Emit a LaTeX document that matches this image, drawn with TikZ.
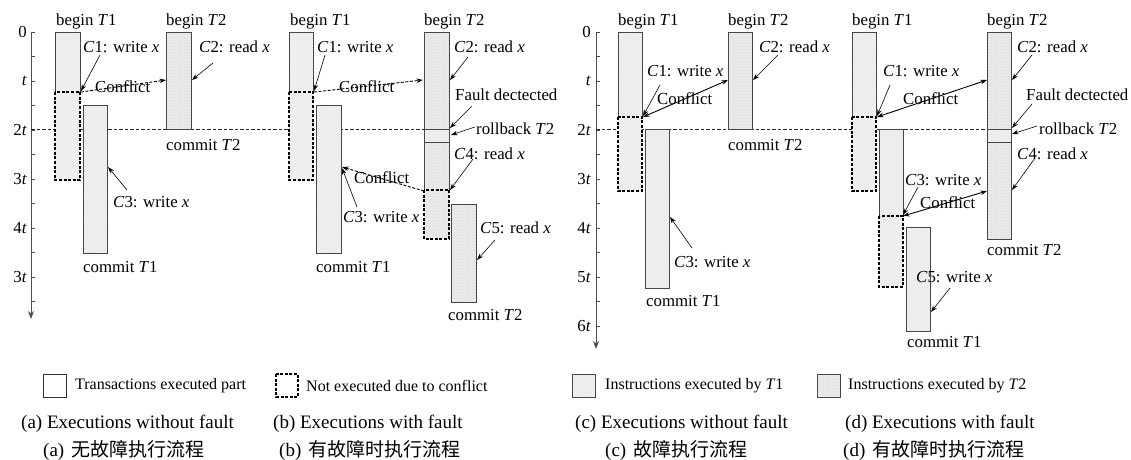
\documentclass[tikz,border=0pt]{standalone}
\usepackage{fontspec}
\setmainfont{Liberation Serif}
\newfontfamily\cjk{Noto Sans CJK SC}
\usetikzlibrary{arrows.meta,patterns}
\begin{document}
\begin{tikzpicture}[x=1pt,y=-1pt,
  lbl/.style={font=\fontsize{16.8}{18}\selectfont, inner sep=0pt, anchor=west},
  axl/.style={font=\fontsize{16.8}{18}\selectfont, inner sep=0pt, anchor=east},
  leg/.style={font=\fontsize{16}{17}\selectfont, inner sep=0pt, anchor=west},
  captxt/.style={font=\fontsize{19}{21}\selectfont, inner sep=0pt, anchor=west},
  t1f/.style={preaction={fill=black!4}, pattern=north east lines, pattern color=black!12},
  t2f/.style={preaction={fill=black!8}, pattern=crosshatch dots, pattern color=black!16},
  sol/.style={draw=black!72, line width=0.8pt},
  dsh/.style={draw=black, line width=1.1pt, dash pattern=on 3pt off 1.6pt},
  twot/.style={draw=black!85, line width=0.7pt, dash pattern=on 3.5pt off 2pt},
  axisst/.style={draw=black!70, line width=0.9pt, -{Stealth[length=8pt,width=6pt]}},
  tck/.style={draw=black!70, line width=0.8pt},
  arr/.style={draw=black, line width=0.6pt, -{Stealth[length=6.5pt,width=4.5pt]}},
  darr/.style={draw=black, line width=0.9pt, dash pattern=on 3pt off 1.6pt, -{Stealth[length=6.5pt,width=4.5pt]}},
  barr/.style={draw=black, line width=0.9pt, {Stealth[length=6.5pt,width=4.5pt]}-{Stealth[length=6.5pt,width=4.5pt]}}
]
\useasboundingbox (0,0) rectangle (1131,459);

% ---------------- axes ----------------
\coordinate (axAt) at (31,32); \coordinate (axAb) at (31,319);
\draw[axisst] (axAt) -- (axAb);
\foreach \k in {0,...,11} \draw[tck] (31,{32+24.5*\k}) -- ++(4,0);
\node[axl] (aL0) at (27,32) {0};
\node[axl] (aL1) at (27,81) {\textit{t}};
\node[axl] (aL2) at (27,130) {2\textit{t}};
\node[axl] (aL3) at (27,179) {3\textit{t}};
\node[axl] (aL4) at (27,228) {4\textit{t}};
\node[axl] (aL5) at (27,277) {3\textit{t}};

\coordinate (axCt) at (596,32); \coordinate (axCb) at (596,349);
\draw[axisst] (axCt) -- (axCb);
\foreach \k in {0,...,12} \draw[tck] (596,{32+24.5*\k}) -- ++(4,0);
\node[axl] (cL0) at (591,32) {0};
\node[axl] (cL1) at (591,81) {\textit{t}};
\node[axl] (cL2) at (591,130) {2\textit{t}};
\node[axl] (cL3) at (591,179) {3\textit{t}};
\node[axl] (cL4) at (591,228) {4\textit{t}};
\node[axl] (cL5) at (591,277) {5\textit{t}};
\node[axl] (cL6) at (591,326) {6\textit{t}};

% ---------------- 2t lines ----------------
\coordinate (ab2s) at (31,129); \coordinate (ab2e) at (424,129);
\draw[twot] (ab2s) -- (ab2e);
\coordinate (cd2s) at (596,129); \coordinate (cd2e) at (987,129);
\draw[twot] (cd2s) -- (cd2e);

% ================= panel (a) =================
\path[t1f] (55,32) rectangle (80,180);
\draw[sol] (55,92) -- (55,32) -- (80,32) -- (80,92);
\draw[dsh] (55,92) rectangle (80,180);
\path[t1f] (83,105) rectangle (107,253);
\draw[sol] (83,105) rectangle (107,253);
\path[t2f] (166,32) rectangle (191,129);
\draw[sol] (166,32) rectangle (191,129);

\node[lbl] (aB1) at (56,21) {begin \textit{T}1};
\node[lbl] (aB2) at (166,21) {begin \textit{T}2};
\node[lbl] (aC1) at (83,47) {\textit{C}1: write \textit{x}};
\node[lbl] (aC2) at (199,47) {\textit{C}2: read \textit{x}};
\node[lbl] (aCf) at (95,87) {Conflict};
\node[lbl] (aM2) at (166,145) {commit \textit{T}2};
\node[lbl] (aC3) at (113,202) {\textit{C}3: write \textit{x}};
\node[lbl] (aM1) at (83,267) {commit \textit{T}1};

\coordinate (aC1s) at (100,55);  \coordinate (aT1k) at (81,91);
\draw[arr] (aC1s) -- (aT1k);
\coordinate (aC2s) at (213,63);  \coordinate (aT2k) at (192,80);
\draw[arr] (aC2s) -- (aT2k);
\coordinate (aCfs) at (81,92);   \coordinate (aCfe) at (166,80);
\draw[darr] (aCfs) -- (aCfe);
\coordinate (aC3s) at (127,190); \coordinate (aC3k) at (108,167);
\draw[arr] (aC3s) -- (aC3k);

% ================= panel (b) =================
\path[t1f] (289,32) rectangle (313,180);
\draw[sol] (289,92) -- (289,32) -- (313,32) -- (313,92);
\draw[dsh] (289,92) rectangle (313,180);
\path[t1f] (316,105) rectangle (341,253);
\draw[sol] (316,105) rectangle (341,253);
\path[t2f] (424,32) rectangle (449,129);
\path[t1f] (424,129) rectangle (449,142);
\path[t2f] (424,142) rectangle (449,239);
\draw[sol] (424,190) -- (424,32) -- (449,32) -- (449,190);
\draw[sol] (424,129) -- (449,129) (424,142) -- (449,142);
\draw[dsh] (424,190) rectangle (449,239);
\path[t2f] (451,204) rectangle (476,302);
\draw[sol] (451,204) rectangle (476,302);

\node[lbl] (bB1) at (290,21) {begin \textit{T}1};
\node[lbl] (bC1) at (317,47) {\textit{C}1: write \textit{x}};
\node[lbl] (bB2) at (424,21) {begin \textit{T}2};
\node[lbl] (bC2) at (454,47) {\textit{C}2: read \textit{x}};
\node[lbl] (bCf1) at (339,87) {Conflict};
\node[lbl] (bFd) at (455,95) {Fault dectected};
\node[lbl] (bRb) at (476,129) {rollback \textit{T}2};
\node[lbl] (bC4) at (454,154) {\textit{C}4: read \textit{x}};
\node[lbl] (bCf2) at (354,178) {Conflict};
\node[lbl] (bC3) at (343,217) {\textit{C}3: write \textit{x}};
\node[lbl] (bC5) at (480,228) {\textit{C}5: read \textit{x}};
\node[lbl] (bM1) at (316,267) {commit \textit{T}1};
\node[lbl] (bM2) at (448,315) {commit \textit{T}2};

\coordinate (bC1s) at (325,55);  \coordinate (bT1k) at (314,91);
\draw[arr] (bC1s) -- (bT1k);
\coordinate (bC2s) at (468,57);  \coordinate (bT2k) at (450,80);
\draw[arr] (bC2s) -- (bT2k);
\coordinate (bCf1s) at (314,92); \coordinate (bCf1e) at (423,80);
\draw[darr] (bCf1s) -- (bCf1e);
\coordinate (bFds) at (472,106); \coordinate (bFdk) at (450,128);
\draw[arr] (bFds) -- (bFdk);
\coordinate (bRbs) at (475,127); \coordinate (bRbk) at (451,135);
\draw[arr] (bRbs) -- (bRbk);
\coordinate (bC4s) at (473,159); \coordinate (bC4k) at (450,190);
\draw[arr] (bC4s) -- (bC4k);
\coordinate (bCf2s) at (424,191); \coordinate (bCf2e) at (342,167);
\draw[darr] (bCf2s) -- (bCf2e);
\coordinate (bC3s) at (357,207); \coordinate (bC3k) at (342,168);
\draw[arr] (bC3s) -- (bC3k);
\coordinate (bC5s) at (495,240); \coordinate (bC5k) at (477,260);
\draw[arr] (bC5s) -- (bC5k);

% ================= panel (c) =================
\path[t1f] (618,32) rectangle (642,191);
\draw[sol] (618,117) -- (618,32) -- (642,32) -- (642,117);
\draw[dsh] (618,117) rectangle (642,191);
\path[t1f] (645,129) rectangle (669,288);
\draw[sol] (645,129) rectangle (669,288);
\path[t2f] (728,32) rectangle (752,129);
\draw[sol] (728,32) rectangle (752,129);

\node[lbl] (cB1) at (618,21) {begin \textit{T}1};
\node[lbl] (cB2) at (728,21) {begin \textit{T}2};
\node[lbl] (cC2) at (759,47) {\textit{C}2: read \textit{x}};
\node[lbl] (cC1) at (647,71) {\textit{C}1: write \textit{x}};
\node[lbl] (cCf) at (657,99) {Conflict};
\node[lbl] (cM2) at (728,145) {commit \textit{T}2};
\node[lbl] (cC3) at (674,262) {\textit{C}3: write \textit{x}};
\node[lbl] (cM1) at (646,301) {commit \textit{T}1};

\coordinate (cC2s) at (778,55);  \coordinate (cT2k) at (753,80);
\draw[arr] (cC2s) -- (cT2k);
\coordinate (cC1s) at (660,85);  \coordinate (cT1k) at (643,116);
\draw[arr] (cC1s) -- (cT1k);
\coordinate (cCfs) at (643,117); \coordinate (cCfe) at (728,80);
\draw[barr] (cCfs) -- (cCfe);
\coordinate (cC3s) at (692,248); \coordinate (cC3k) at (670,217);
\draw[arr] (cC3s) -- (cC3k);

% ================= panel (d) =================
\path[t1f] (852,32) rectangle (876,191);
\draw[sol] (852,117) -- (852,32) -- (876,32) -- (876,117);
\draw[dsh] (852,117) rectangle (876,191);
\path[t1f] (879,129) rectangle (903,287);
\draw[sol] (879,216) -- (879,129) -- (903,129) -- (903,216);
\draw[dsh] (879,216) rectangle (903,287);
\path[t1f] (906,227) rectangle (930,331);
\draw[sol] (906,227) rectangle (930,331);
\path[t2f] (987,32) rectangle (1011,129);
\path[t1f] (987,129) rectangle (1011,142);
\path[t2f] (987,142) rectangle (1011,239);
\draw[sol] (987,32) rectangle (1011,239);
\draw[sol] (987,129) -- (1011,129) (987,142) -- (1011,142);

\node[lbl] (dB1) at (852,21) {begin \textit{T}1};
\node[lbl] (dB2) at (987,21) {begin \textit{T}2};
\node[lbl] (dC2) at (1017,47) {\textit{C}2: read \textit{x}};
\node[lbl] (dC1) at (883,71) {\textit{C}1: write \textit{x}};
\node[lbl] (dCf1) at (903,99) {Conflict};
\node[lbl] (dFd) at (1026,95) {Fault dectected};
\node[lbl] (dRb) at (1039,129) {rollback \textit{T}2};
\node[lbl] (dC4) at (1017,154) {\textit{C}4: read \textit{x}};
\node[lbl] (dC3) at (905,180) {\textit{C}3: write \textit{x}};
\node[lbl] (dCf2) at (920,203) {Conflict};
\node[lbl] (dM2) at (987,250) {commit \textit{T}2};
\node[lbl] (dC5) at (916,277) {\textit{C}5: write \textit{x}};
\node[lbl] (dM1) at (907,342) {commit \textit{T}1};

\coordinate (dC2s) at (1032,55); \coordinate (dT2k) at (1012,80);
\draw[arr] (dC2s) -- (dT2k);
\coordinate (dC1s) at (890,85);  \coordinate (dT1k) at (877,116);
\draw[arr] (dC1s) -- (dT1k);
\coordinate (dCf1s) at (877,117); \coordinate (dCf1e) at (987,80);
\draw[barr] (dCf1s) -- (dCf1e);
\coordinate (dFds) at (1032,104); \coordinate (dFdk) at (1012,128);
\draw[arr] (dFds) -- (dFdk);
\coordinate (dRbs) at (1037,126); \coordinate (dRbk) at (1012,134);
\draw[arr] (dRbs) -- (dRbk);
\coordinate (dC4s) at (1035,158); \coordinate (dC4k) at (1012,190);
\draw[arr] (dC4s) -- (dC4k);
\coordinate (dC3s) at (918,187); \coordinate (dC3k) at (903,215);
\draw[arr] (dC3s) -- (dC3k);
\coordinate (dCf2s) at (903,216); \coordinate (dCf2e) at (987,191);
\draw[barr] (dCf2s) -- (dCf2e);
\coordinate (dC5s) at (950,288); \coordinate (dC5k) at (931,312);
\draw[arr] (dC5s) -- (dC5k);

% ================= legend =================
\draw[draw=black!80, line width=0.8pt, fill=white] (43,374) rectangle (66,397);
\node[leg] (lg1) at (75,386) {Transactions executed part};
\draw[dsh, fill=white] (276,374) rectangle (298,397);
\node[leg] (lg2) at (306,386) {Not executed due to conflict};
\path[t1f] (572,374) rectangle (595,397);
\draw[sol] (572,374) rectangle (595,397);
\node[leg] (lg3) at (605,386) {Instructions executed by \textit{T}1};
\path[t2f] (817,374) rectangle (840,397);
\draw[sol] (817,374) rectangle (840,397);
\node[leg] (lg4) at (848,386) {Instructions executed by \textit{T}2};

% ================= captions =================
\node[captxt] (capa) at (21,424) {(a) Executions without fault};
\node[captxt] (capb) at (273,424) {(b) Executions with fault};
\node[captxt] (capc) at (575,424) {(c) Executions without fault};
\node[captxt] (capd) at (845,424) {(d) Executions with fault};
\node[captxt] (zha) at (43,450) {(a)\hspace{7pt}{\cjk\fontsize{19}{20}\selectfont 无故障执行流程}};
\node[captxt] (zhb) at (279,450) {(b)\hspace{7pt}{\cjk\fontsize{19}{20}\selectfont 有故障时执行流程}};
\node[captxt] (zhc) at (605,450) {(c)\hspace{7pt}{\cjk\fontsize{19}{20}\selectfont 故障执行流程}};
\node[captxt] (zhd) at (843,450) {(d)\hspace{7pt}{\cjk\fontsize{19}{20}\selectfont 有故障时执行流程}};
\end{tikzpicture}
\end{document}
